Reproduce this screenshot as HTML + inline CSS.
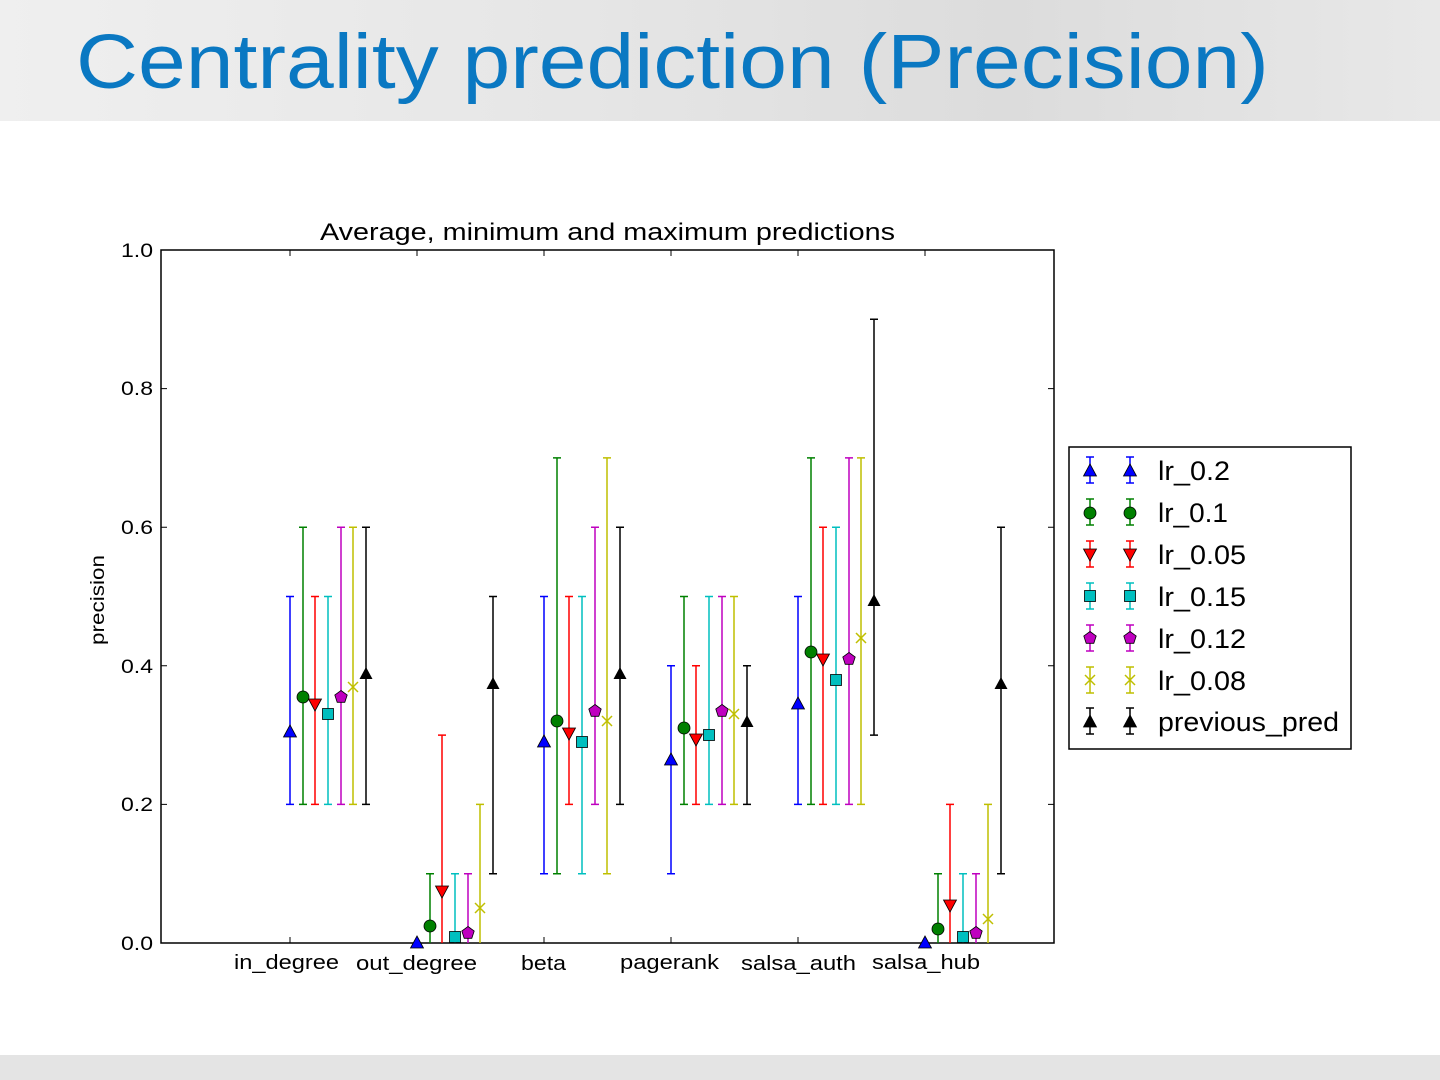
<!DOCTYPE html>
<html><head><meta charset="utf-8"><style>
body{margin:0;width:1440px;height:1080px;background:#fff;overflow:hidden;font-family:"Liberation Sans",sans-serif}
.hdr{position:absolute;left:0;top:0;width:1440px;height:121px;background:linear-gradient(90deg,#efefef,#e6e6e6 40%,#dcdcdc 70%,#e8e8e8)}
.hdr h1{margin:0;position:absolute;left:76px;top:18px;font-weight:normal;font-size:77px;color:#0a78c2;white-space:nowrap;transform:scaleX(1.115);transform-origin:0 0}
.ftr{position:absolute;left:0;top:1055px;width:1440px;height:25px;background:#e4e4e4}
</style></head><body>
<div class="hdr"><h1>Centrality prediction (Precision)</h1></div>
<div class="ftr"></div>
<svg width="1440" height="1080" style="position:absolute;left:0;top:0" font-family="Liberation Sans, sans-serif">
<defs>
<path id="tu" d="M0,-7 L6.5,5 L-6.5,5Z"/>
<circle id="ci" r="6"/>
<path id="td" d="M0,7 L6.5,-5 L-6.5,-5Z"/>
<rect id="sq" x="-5.5" y="-5.5" width="11" height="11"/>
<path id="pe" d="M0,-6.5 L6.2,-2 L3.8,5.3 L-3.8,5.3 L-6.2,-2Z"/>
<path id="xx" d="M-5,-5 L5,5 M-5,5 L5,-5" fill="none"/>
</defs>
<rect x="161" y="250" width="893" height="693" fill="#fff" stroke="#000" stroke-width="1.5"/>
<g stroke="#000" stroke-width="1">
<path d="M161 804.4h6M161 665.8h6M161 527.2h6M161 388.6h6M1054 804.4h-6M1054 665.8h-6M1054 527.2h-6M1054 388.6h-6"/>
<path d="M290 943v-6M417 943v-6M544 943v-6M671 943v-6M798 943v-6M925 943v-6M290 250v6M417 250v6M544 250v6M671 250v6M798 250v6M925 250v6"/>
</g>
<g font-size="19" fill="#000">
<text x="121" y="950" textLength="32" lengthAdjust="spacingAndGlyphs">0.0</text><text x="121" y="811" textLength="32" lengthAdjust="spacingAndGlyphs">0.2</text><text x="121" y="673" textLength="32" lengthAdjust="spacingAndGlyphs">0.4</text><text x="121" y="534" textLength="32" lengthAdjust="spacingAndGlyphs">0.6</text><text x="121" y="395" textLength="32" lengthAdjust="spacingAndGlyphs">0.8</text><text x="121" y="257" textLength="32" lengthAdjust="spacingAndGlyphs">1.0</text>
</g>
<g font-size="20" fill="#000">
<text x="234" y="969" textLength="105" lengthAdjust="spacingAndGlyphs">in_degree</text><text x="356" y="970" textLength="121" lengthAdjust="spacingAndGlyphs">out_degree</text><text x="521" y="970" textLength="45" lengthAdjust="spacingAndGlyphs">beta</text><text x="620" y="969" textLength="99" lengthAdjust="spacingAndGlyphs">pagerank</text><text x="741" y="970" textLength="115" lengthAdjust="spacingAndGlyphs">salsa_auth</text><text x="872" y="969" textLength="108" lengthAdjust="spacingAndGlyphs">salsa_hub</text>
</g>
<text x="320" y="240" font-size="24" textLength="575" lengthAdjust="spacingAndGlyphs">Average, minimum and maximum predictions</text>
<text transform="translate(104,645) rotate(-90)" font-size="19" textLength="90" lengthAdjust="spacingAndGlyphs">precision</text>
<g stroke="#0000ff" stroke-width="1.5" fill="none">
<path d="M290 804.4V596.5M286 804.4h8M286 596.5h8 M544 873.7V596.5M540 873.7h8M540 596.5h8 M671 873.7V665.8M667 873.7h8M667 665.8h8 M798 804.4V596.5M794 804.4h8M794 596.5h8"/>
</g>
<g fill="#0000ff" stroke="#000" stroke-width="0.8">
<use href="#tu" x="290" y="732"/><use href="#tu" x="417" y="943"/><use href="#tu" x="544" y="742"/><use href="#tu" x="671" y="760"/><use href="#tu" x="798" y="704"/><use href="#tu" x="925" y="943"/>
</g>
<g stroke="#008000" stroke-width="1.5" fill="none">
<path d="M303 804.4V527.2M299 804.4h8M299 527.2h8 M430 943V873.7M426 873.7h8 M557 873.7V457.9M553 873.7h8M553 457.9h8 M684 804.4V596.5M680 804.4h8M680 596.5h8 M811 804.4V457.9M807 804.4h8M807 457.9h8 M938 943V873.7M934 873.7h8"/>
</g>
<g fill="#008000" stroke="#000" stroke-width="0.8">
<use href="#ci" x="303" y="697"/><use href="#ci" x="430" y="926"/><use href="#ci" x="557" y="721"/><use href="#ci" x="684" y="728"/><use href="#ci" x="811" y="652"/><use href="#ci" x="938" y="929"/>
</g>
<g stroke="#ff0000" stroke-width="1.5" fill="none">
<path d="M315 804.4V596.5M311 804.4h8M311 596.5h8 M442 943V735.1M438 735.1h8 M569 804.4V596.5M565 804.4h8M565 596.5h8 M696 804.4V665.8M692 804.4h8M692 665.8h8 M823 804.4V527.2M819 804.4h8M819 527.2h8 M950 943V804.4M946 804.4h8"/>
</g>
<g fill="#ff0000" stroke="#000" stroke-width="0.8">
<use href="#td" x="315" y="704"/><use href="#td" x="442" y="891"/><use href="#td" x="569" y="733"/><use href="#td" x="696" y="739"/><use href="#td" x="823" y="659"/><use href="#td" x="950" y="905"/>
</g>
<g stroke="#00bfbf" stroke-width="1.5" fill="none">
<path d="M328 804.4V596.5M324 804.4h8M324 596.5h8 M455 943V873.7M451 873.7h8 M582 873.7V596.5M578 873.7h8M578 596.5h8 M709 804.4V596.5M705 804.4h8M705 596.5h8 M836 804.4V527.2M832 804.4h8M832 527.2h8 M963 943V873.7M959 873.7h8"/>
</g>
<g fill="#00bfbf" stroke="#000" stroke-width="0.8">
<use href="#sq" x="328" y="714"/><use href="#sq" x="455" y="937"/><use href="#sq" x="582" y="742"/><use href="#sq" x="709" y="735"/><use href="#sq" x="836" y="680"/><use href="#sq" x="963" y="937"/>
</g>
<g stroke="#bf00bf" stroke-width="1.5" fill="none">
<path d="M341 804.4V527.2M337 804.4h8M337 527.2h8 M468 943V873.7M464 873.7h8 M595 804.4V527.2M591 804.4h8M591 527.2h8 M722 804.4V596.5M718 804.4h8M718 596.5h8 M849 804.4V457.9M845 804.4h8M845 457.9h8 M976 943V873.7M972 873.7h8"/>
</g>
<g fill="#bf00bf" stroke="#000" stroke-width="0.8">
<use href="#pe" x="341" y="697"/><use href="#pe" x="468" y="933"/><use href="#pe" x="595" y="711"/><use href="#pe" x="722" y="711"/><use href="#pe" x="849" y="659"/><use href="#pe" x="976" y="933"/>
</g>
<g stroke="#bfbf00" stroke-width="1.5" fill="none">
<path d="M353 804.4V527.2M349 804.4h8M349 527.2h8 M480 943V804.4M476 804.4h8 M607 873.7V457.9M603 873.7h8M603 457.9h8 M734 804.4V596.5M730 804.4h8M730 596.5h8 M861 804.4V457.9M857 804.4h8M857 457.9h8 M988 943V804.4M984 804.4h8"/>
<use href="#xx" x="353" y="687"/><use href="#xx" x="480" y="908"/><use href="#xx" x="607" y="721"/><use href="#xx" x="734" y="714"/><use href="#xx" x="861" y="638"/><use href="#xx" x="988" y="919"/>
</g>
<g stroke="#000" stroke-width="1.5" fill="none">
<path d="M366 804.4V527.2M362 804.4h8M362 527.2h8 M493 873.7V596.5M489 873.7h8M489 596.5h8 M620 804.4V527.2M616 804.4h8M616 527.2h8 M747 804.4V665.8M743 804.4h8M743 665.8h8 M874 735.1V319.3M870 735.1h8M870 319.3h8 M1001 873.7V527.2M997 873.7h8M997 527.2h8"/>
</g>
<g fill="#000">
<use href="#tu" x="366" y="674"/><use href="#tu" x="493" y="684"/><use href="#tu" x="620" y="674"/><use href="#tu" x="747" y="722"/><use href="#tu" x="874" y="601"/><use href="#tu" x="1001" y="684"/>
</g>
<rect x="1069" y="447" width="282" height="302" fill="#fff" stroke="#000" stroke-width="1.5"/>
<g stroke-width="1.5" fill="none">
<path stroke="#0000ff" d="M1090 457v26M1086 457h8M1086 483h8M1130 457v26M1126 457h8M1126 483h8"/>
<path stroke="#008000" d="M1090 499v26M1086 499h8M1086 525h8M1130 499v26M1126 499h8M1126 525h8"/>
<path stroke="#ff0000" d="M1090 541v26M1086 541h8M1086 567h8M1130 541v26M1126 541h8M1126 567h8"/>
<path stroke="#00bfbf" d="M1090 583v26M1086 583h8M1086 609h8M1130 583v26M1126 583h8M1126 609h8"/>
<path stroke="#bf00bf" d="M1090 625v26M1086 625h8M1086 651h8M1130 625v26M1126 651h8M1126 625h8"/>
<path stroke="#bfbf00" d="M1090 667v26M1086 667h8M1086 693h8M1130 667v26M1126 667h8M1126 693h8"/>
<path stroke="#000" d="M1090 708v26M1086 708h8M1086 734h8M1130 708v26M1126 708h8M1126 734h8"/>
</g>
<g stroke="#000" stroke-width="0.8">
<use href="#tu" x="1090" y="471" fill="#0000ff"/><use href="#tu" x="1130" y="471" fill="#0000ff"/>
<use href="#ci" x="1090" y="513" fill="#008000"/><use href="#ci" x="1130" y="513" fill="#008000"/>
<use href="#td" x="1090" y="554" fill="#ff0000"/><use href="#td" x="1130" y="554" fill="#ff0000"/>
<use href="#sq" x="1090" y="596" fill="#00bfbf"/><use href="#sq" x="1130" y="596" fill="#00bfbf"/>
<use href="#pe" x="1090" y="638" fill="#bf00bf"/><use href="#pe" x="1130" y="638" fill="#bf00bf"/>
<use href="#tu" x="1090" y="722" fill="#000"/><use href="#tu" x="1130" y="722" fill="#000"/>
</g>
<g stroke="#bfbf00" stroke-width="1.5"><use href="#xx" x="1090" y="680"/><use href="#xx" x="1130" y="680"/></g>
<g font-size="27" fill="#000">
<text x="1158" y="480" textLength="72" lengthAdjust="spacingAndGlyphs">lr_0.2</text><text x="1158" y="522" textLength="70" lengthAdjust="spacingAndGlyphs">lr_0.1</text><text x="1158" y="564" textLength="88" lengthAdjust="spacingAndGlyphs">lr_0.05</text><text x="1158" y="606" textLength="88" lengthAdjust="spacingAndGlyphs">lr_0.15</text><text x="1158" y="648" textLength="88" lengthAdjust="spacingAndGlyphs">lr_0.12</text><text x="1158" y="690" textLength="88" lengthAdjust="spacingAndGlyphs">lr_0.08</text><text x="1158" y="731" textLength="181" lengthAdjust="spacingAndGlyphs">previous_pred</text>
</g>
</svg>
</body></html>
